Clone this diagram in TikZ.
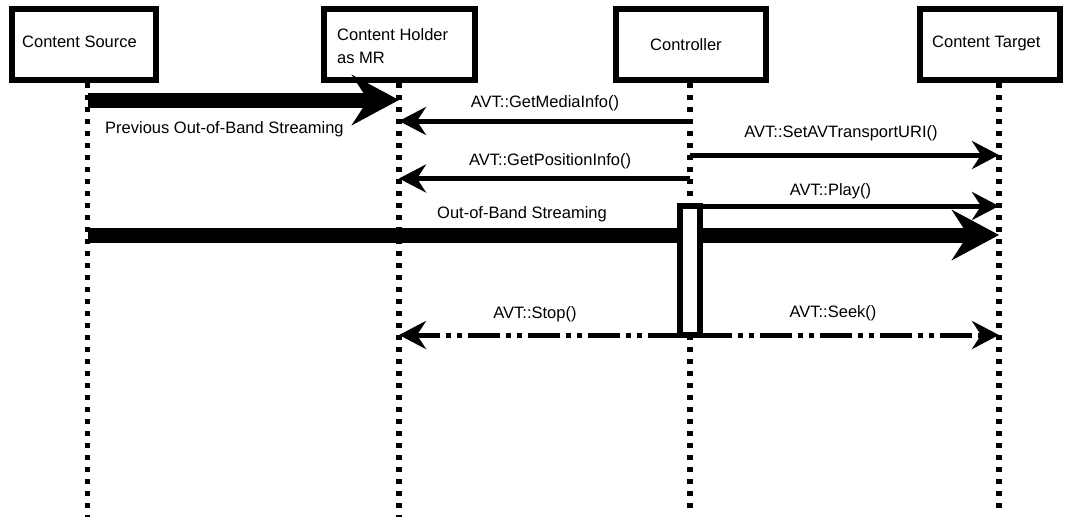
\documentclass[tikz,border=0pt]{standalone}
\usepackage{fontspec}
\setmainfont{Liberation Sans}
\usetikzlibrary{arrows.meta}
\begin{document}
\begin{tikzpicture}[x=1pt,y=-1pt,
  font=\fontsize{16.5}{20}\selectfont,
  actor/.style={draw, line width=6pt, fill=white, rectangle, inner sep=0pt, outer sep=0pt, minimum height=70.5pt},
  lbl/.style={inner sep=0pt, anchor=base west},
  msglbl/.style={inner sep=0pt, anchor=base},
  lifeline/.style={line width=5.5pt, dash pattern=on 5pt off 7pt},
  call/.style={line width=5pt, -{Stealth[length=27pt,width=28pt,inset=9pt]}},
  stream/.style={line width=15pt, -{Stealth[length=47pt,width=50pt,inset=16pt]}},
  reply/.style={call, dash pattern=on 32pt off 6pt on 5pt off 6pt on 5pt off 6pt},
  activation/.style={draw, fill=white, line width=5.5pt, inner sep=0pt, outer sep=0pt,
                     minimum width=20pt, minimum height=129pt}]

\useasboundingbox (0,0) rectangle (1065,520);

% participants
\node[actor, minimum width=144.5pt] (src)  at (83.75,44.25) {};
\node[actor, minimum width=150.5pt] (hold) at (399.25,44.25) {};
\node[actor, minimum width=150pt]   (ctrl) at (690.5,44.25) {};
\node[actor, minimum width=140pt]   (tgt)  at (990,44.25) {};

\node[lbl] (srcT)  at (22,47)  {Content Source};
\node[lbl] (holdT) at (337,40) {Content Holder};
\node[lbl] (holdU) at (337,63) {as MR};
\node[lbl] (ctrlT) at (650,50) {Controller};
\node[lbl] (tgtT)  at (932,47) {Content Target};

% lifelines
\coordinate (srcL)  at (87.5,83);
\coordinate (holdL) at (399,83);
\coordinate (ctrlL) at (690,83);
\coordinate (tgtL)  at (999,83);
\coordinate (srcE)  at (87.5,517);
\coordinate (holdE) at (399,517);
\coordinate (ctrlE) at (690,510);
\coordinate (tgtE)  at (999,513);

\draw[lifeline] (srcL) -- (srcE);
\draw[lifeline] (holdL) -- (holdE);
\draw[lifeline] (ctrlL) -- (ctrlE);
\draw[lifeline] (tgtL) -- (tgtE);

% earlier streaming
\coordinate (prevY) at (0,100);
\draw[stream] (srcL |- prevY) -- (holdL |- prevY);
\node[lbl] (prevT) at (105,133) {Previous Out-of-Band Streaming};

% control calls
\coordinate (mediaY) at (0,121);
\draw[call] (ctrlL |- mediaY) -- (holdL |- mediaY);
\node[msglbl] (mediaT) at (545,107) {AVT::GetMediaInfo()};

\coordinate (uriY) at (0,155);
\draw[call] (ctrlL |- uriY) -- (tgtL |- uriY);
\node[msglbl] (uriT) at (841,137) {AVT::SetAVTransportURI()};

\coordinate (posY) at (0,178.5);
\draw[call] (ctrlL |- posY) -- (holdL |- posY);
\node[msglbl] (posT) at (550,165) {AVT::GetPositionInfo()};

% current streaming
\coordinate (oobY) at (0,235);
\draw[stream] (srcL |- oobY) -- (tgtL |- oobY);
\node[lbl] (oobT) at (437,218) {Out-of-Band Streaming};

% activation on the controller, drawn above the stream
\node[activation] (act) at (690,270.5) {};

\draw[call] (act.north east) -- (tgtL |- act.north east);
\node[msglbl] (playT) at (830.5,195) {AVT::Play()};

\draw[reply] (act.south west) -- (holdL |- act.south west);
\node[msglbl] (stopT) at (535,318) {AVT::Stop()};

\draw[reply] (act.south east) -- (tgtL |- act.south east);
\node[msglbl] (seekT) at (833,317) {AVT::Seek()};
\end{tikzpicture}
\end{document}
